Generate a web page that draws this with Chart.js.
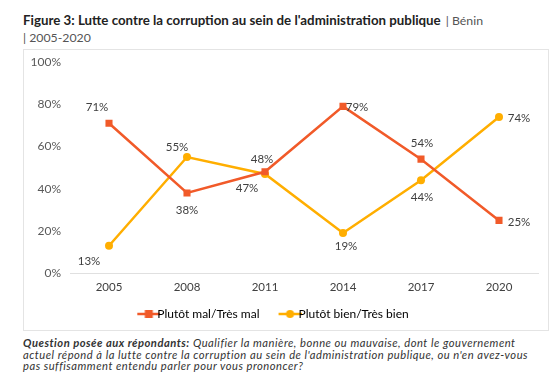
<!DOCTYPE html>
<html>
<head>
<meta charset="utf-8">
<script src="https://cdn.jsdelivr.net/npm/chart.js@4"></script>
<style>
  body { margin: 0; background: #fff; font-family: Lato, "Noto Sans", sans-serif; color: #333; }
  .title { position: absolute; left: 23px; top: 12px; width: 525px; font-size: 13.3px; line-height: 16px; color: #222; }
  .title b { font-weight: 700; margin-right: 5px; }
  .title span { color: #555; font-size: 12.3px; }
  .box { position: absolute; left: 23px; top: 49px; width: 524px; height: 280px; border: 1px solid #e4e4e4; }
  .note { position: absolute; left: 23px; top: 337px; width: 527px; font-size: 11.2px; line-height: 11.5px; letter-spacing: 0.5px; font-style: italic; color: #333; white-space: nowrap; }
</style>
</head>
<body>
<div class="title"><b>Figure 3: Lutte contre la corruption au sein de l'administration publique</b><span>| Bénin<br>| 2005-2020</span></div>
<div class="box"><canvas id="chartLutte"></canvas></div>
<div class="note"><b>Question posée aux répondants:</b> Qualifier la manière, bonne ou mauvaise, dont le gouvernement<br>actuel répond à la lutte contre la corruption au sein de l'administration publique, ou n'en avez-vous<br>pas suffisamment entendu parler pour vous prononcer?</div>
<script>
const years = ["2005", "2008", "2011", "2014", "2017", "2020"];
const malValues = [71, 38, 48, 79, 54, 25];
const bienValues = [13, 55, 47, 19, 44, 74];
const yTicks = [0, 20, 40, 60, 80, 100];

const RED = '#F15A29';
const YELLOW = '#FFAE00';

// where each value label sits relative to its point
const labelOffsets = [
  [[-12, -16], [0, 17], [-3, -13], [14, 1], [1, -16], [20, 2]],
  [[-20, 16], [-10, -10], [-18, 14], [3, 13], [1, 17], [20, 1]]
];

// legend icon: line with marker; blank left part spaces the items,
// image is wider than the legend box so the line reaches the text
function legendIcon(color, shape) {
  const c = document.createElement('canvas');
  c.width = 44; c.height = 10;
  const g = c.getContext('2d');
  g.strokeStyle = color; g.lineWidth = 2.5;
  g.beginPath(); g.moveTo(21, 5); g.lineTo(44, 5); g.stroke();
  g.fillStyle = color;
  if (shape === 'rect') { g.fillRect(28.5, 1, 8, 8); }
  else { g.beginPath(); g.arc(32.5, 5, 4, 0, Math.PI * 2); g.fill(); }
  return c;
}

const valueLabels = {
  id: 'valueLabels',
  afterDatasetsDraw(chart) {
    const ctx = chart.ctx;
    ctx.save();
    ctx.font = '11.5px Lato, "Noto Sans", sans-serif';
    ctx.fillStyle = '#404040';
    ctx.textAlign = 'center';
    ctx.textBaseline = 'middle';
    chart.data.datasets.forEach(function(ds, i) {
      chart.getDatasetMeta(i).data.forEach(function(pt, j) {
        const off = labelOffsets[i][j];
        ctx.fillText(ds.data[j] + '%', pt.x + off[0], pt.y + off[1]);
      });
    });
    ctx.restore();
  }
};

// legend sits a little left of the box centre in the original
const legendShift = {
  id: 'legendShift',
  afterLayout(chart) {
    chart.legend.left -= 14;
    chart.legend.right -= 14;
  }
};

const ctx = document.getElementById('chartLutte');
new Chart(ctx, {
  type: 'line',
  data: {
    labels: years,
    datasets: [{
      label: 'Plutôt mal/Très mal',
      data: malValues,
      borderColor: RED,
      backgroundColor: RED,
      borderWidth: 2.5,
      pointStyle: 'rect',
      pointRadius: 5,
      pointBorderWidth: 0,
      tension: 0
    }, {
      label: 'Plutôt bien/Très bien',
      data: bienValues,
      borderColor: YELLOW,
      backgroundColor: YELLOW,
      borderWidth: 2.5,
      pointStyle: 'circle',
      pointRadius: 4,
      pointBorderWidth: 0,
      tension: 0
    }]
  },
  options: {
    responsive: true,
    maintainAspectRatio: false,
    animation: false,
    layout: { padding: { top: 12, right: 10, left: 0, bottom: 0 } },
    scales: {
      y: {
        min: 0, max: 100,
        afterFit: function(s) { s.width = 46; s.paddingTop = 0; s.paddingBottom = 0; },
        afterBuildTicks: function(s) { s.ticks = yTicks.map(v => ({ value: v })); },
        border: { display: false },
        grid: { display: false, drawTicks: false },
        ticks: {
          padding: 9,
          color: '#595959',
          font: { size: 12, family: 'Lato, "Noto Sans", sans-serif' },
          callback: v => v + '%'
        }
      },
      x: {
        offset: true,
        border: { display: true, color: '#e0e0e0', width: 1 },
        grid: { display: false, drawTicks: false },
        ticks: {
          padding: 7,
          color: '#404040',
          font: { size: 11.5, family: 'Lato, "Noto Sans", sans-serif' }
        }
      }
    },
    plugins: {
      tooltip: { enabled: false },
      legend: {
        position: 'bottom',
        labels: {
          usePointStyle: true,
          pointStyleWidth: 26,
          padding: 7,
          color: '#404040',
          font: { size: 12, family: 'Lato, "Noto Sans", sans-serif' },
          generateLabels: function(chart) {
            return chart.data.datasets.map(function(ds, i) {
              return {
                text: ds.label,
                pointStyle: legendIcon(ds.borderColor, ds.pointStyle),
                fillStyle: ds.borderColor,
                strokeStyle: ds.borderColor,
                lineWidth: 0,
                datasetIndex: i
              };
            });
          }
        }
      }
    }
  },
  plugins: [valueLabels, legendShift]
});
</script>
</body>
</html>
